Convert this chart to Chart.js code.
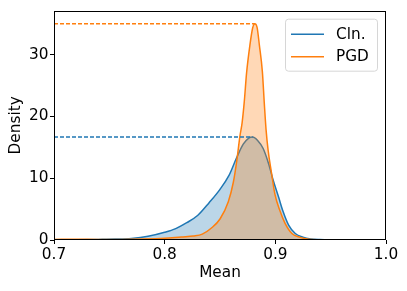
<!DOCTYPE html>
<html lang="en">
<head>
  <meta charset="UTF-8">
  <title>Density of Mean</title>
  <script src="https://cdn.jsdelivr.net/npm/chart.js"></script>
  <style>
    html, body { margin: 0; padding: 0; background: #fff; }
    #chart { display: block; }
  </style>
</head>
<body>
  <canvas id="chart" width="407" height="291"></canvas>

  <script>
    // KDE curves
    const clnX = [0.700, 0.720, 0.740, 0.755, 0.770, 0.785, 0.800, 0.810, 0.820, 0.830, 0.840, 0.850, 0.858, 0.865, 0.871, 0.876, 0.8795, 0.884, 0.889, 0.894, 0.898, 0.903, 0.907, 0.912, 0.918, 0.925, 0.932, 0.940, 0.950, 0.960, 0.970, 0.978];
    const clnY = [0.02, 0.05, 0.10, 0.15, 0.26, 0.60, 1.25, 1.85, 2.8, 4.0, 6.0, 8.2, 10.4, 13.3, 15.5, 16.5, 16.65, 16.1, 14.8, 12.3, 9.7, 6.9, 4.6, 2.4, 1.05, 0.45, 0.17, 0.07, 0.04, 0.04, 0.03, 0.0];

    const pgdX = [0.700, 0.720, 0.740, 0.760, 0.780, 0.800, 0.815, 0.826, 0.834, 0.842, 0.850, 0.8575, 0.862, 0.865, 0.868, 0.870, 0.872, 0.874, 0.877, 0.8795, 0.8815, 0.8835, 0.8856, 0.8883, 0.8901, 0.8916, 0.8935, 0.8965, 0.8995, 0.904, 0.9088, 0.915, 0.9224, 0.930, 0.940, 0.955];
    const pgdY = [0.10, 0.12, 0.10, 0.10, 0.15, 0.28, 0.5, 0.65, 0.95, 1.9, 3.4, 6.2, 9.3, 12.6, 16.8, 19.0, 22.5, 27.0, 31.5, 34.3, 35.0, 34.4, 31.5, 27.2, 21.9, 17.9, 14.5, 10.9, 7.5, 4.8, 2.7, 1.05, 0.43, 0.12, 0.04, 0.0];

    const xTicks = [0.7, 0.8, 0.9, 1.0];
    const yTicks = [0, 10, 20, 30];

    const BLUE = '#1f77b4';
    const ORANGE = '#ff7f0e';
    const FONT = 'DejaVu Sans';
    const FS = 15.3;

    function toPoints(xs, ys) {
      return xs.map((x, i) => ({ x: x, y: ys[i] }));
    }

    // dashed line from the left edge to the peak of a curve
    function peakLine(xs, ys) {
      let k = 0;
      ys.forEach((v, i) => { if (v > ys[k]) k = i; });
      return [{ x: xTicks[0], y: ys[k] }, { x: xs[k], y: ys[k] }];
    }

    // frame around the plot area
    const framePlugin = {
      id: 'frame',
      afterDatasetsDraw(chart) {
        const a = chart.chartArea;
        const ctx = chart.ctx;
        ctx.save();
        ctx.strokeStyle = '#000';
        ctx.lineWidth = 1;
        ctx.strokeRect(Math.round(a.left) + 0.5, Math.round(a.top) + 0.5,
          Math.round(a.right - a.left) - 1, Math.round(a.bottom - a.top) - 1);
        ctx.restore();
      }
    };

    // matplotlib style legend inside the axes, top right
    const legendPlugin = {
      id: 'innerLegend',
      afterDraw(chart) {
        const a = chart.chartArea;
        const ctx = chart.ctx;
        const items = chart.data.datasets.filter(d => d.inLegend);
        const w = 92, h = 52;
        const x0 = a.right - 9 - w, y0 = a.top + 8;
        ctx.save();
        ctx.beginPath();
        ctx.roundRect(x0 + 0.5, y0 + 0.5, w, h, 3);
        ctx.fillStyle = 'rgba(255,255,255,0.8)';
        ctx.fill();
        ctx.strokeStyle = '#d6d6d6';
        ctx.lineWidth = 1;
        ctx.stroke();
        ctx.font = FS + 'px "' + FONT + '"';
        ctx.textBaseline = 'middle';
        ctx.textAlign = 'left';
        items.forEach((d, i) => {
          const y = y0 + 15.5 + i * 22.6;
          ctx.beginPath();
          ctx.moveTo(x0 + 6, y);
          ctx.lineTo(x0 + 39, y);
          ctx.strokeStyle = d.borderColor;
          ctx.lineWidth = 1.5;
          ctx.stroke();
          ctx.fillStyle = '#000';
          ctx.fillText(d.label, x0 + 51, y + 0.5);
        });
        ctx.restore();
      }
    };

    const ctx = document.getElementById('chart').getContext('2d');
    new Chart(ctx, {
      type: 'line',
      data: {
        datasets: [
          {
            label: 'Cln.',
            inLegend: true,
            order: 2,
            data: toPoints(clnX, clnY),
            borderColor: BLUE,
            backgroundColor: 'rgba(31,119,180,0.3)',
            borderWidth: 1.5,
            fill: 'origin',
            pointRadius: 0,
            cubicInterpolationMode: 'monotone'
          },
          {
            label: 'PGD',
            inLegend: true,
            order: 1,
            data: toPoints(pgdX, pgdY),
            borderColor: ORANGE,
            backgroundColor: 'rgba(255,127,14,0.3)',
            borderWidth: 1.5,
            fill: 'origin',
            pointRadius: 0,
            cubicInterpolationMode: 'monotone'
          },
          {
            label: 'Cln. peak',
            order: 0,
            data: peakLine(clnX, clnY),
            borderColor: BLUE,
            borderWidth: 1.5,
            borderDash: [4, 2],
            fill: false,
            pointRadius: 0
          },
          {
            label: 'PGD peak',
            order: 0,
            data: peakLine(pgdX, pgdY),
            borderColor: ORANGE,
            borderWidth: 1.5,
            borderDash: [4, 2],
            fill: false,
            pointRadius: 0
          }
        ]
      },
      options: {
        responsive: false,
        animation: false,
        layout: { padding: { top: 8, right: 21, bottom: 0, left: 0 } },
        plugins: {
          legend: { display: false },
          tooltip: { enabled: false }
        },
        scales: {
          x: {
            type: 'linear',
            min: xTicks[0],
            max: xTicks[xTicks.length - 1],
            afterFit(scale) { scale.height = 51; },
            afterBuildTicks(scale) { scale.ticks = xTicks.map(v => ({ value: v })); },
            ticks: {
              callback: v => v.toFixed(1),
              color: '#000',
              font: { family: FONT, size: FS },
              padding: 2,
              maxRotation: 0
            },
            grid: { drawOnChartArea: false, tickLength: 4, tickColor: '#000' },
            border: { display: false },
            title: {
              display: true,
              text: 'Mean',
              color: '#000',
              font: { family: FONT, size: FS },
              padding: { top: 0, bottom: 9 }
            }
          },
          y: {
            min: 0,
            max: 37.1,
            afterFit(scale) { scale.width = 54; },
            afterBuildTicks(scale) { scale.ticks = yTicks.map(v => ({ value: v })); },
            ticks: {
              color: '#000',
              font: { family: FONT, size: FS },
              padding: 1.5
            },
            grid: { drawOnChartArea: false, tickLength: 4, tickColor: '#000' },
            border: { display: false },
            title: {
              display: true,
              text: 'Density',
              color: '#000',
              font: { family: FONT, size: FS },
              padding: { top: 7, bottom: 0 }
            }
          }
        }
      },
      plugins: [framePlugin, legendPlugin]
    });
  </script>
</body>
</html>
